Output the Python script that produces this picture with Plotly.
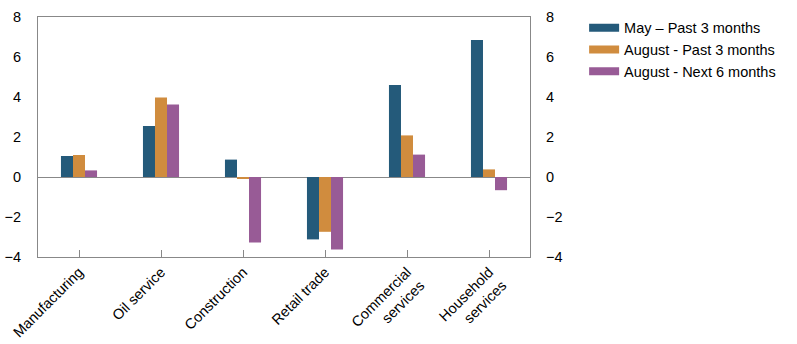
import plotly.graph_objects as go

categories = ["Manufacturing", "Oil service", "Construction", "Retail trade",
              "Commercial<br>services", "Household<br>services"]
may_past3 = [1.05, 2.55, 0.87, -3.12, 4.6, 6.85]
aug_past3 = [1.1, 3.98, -0.08, -2.74, 2.08, 0.38]
aug_next6 = [0.33, 3.63, -3.28, -3.62, 1.12, -0.66]
series_names = ["May \u2013 Past 3 months", "August - Past 3 months", "August - Next 6 months"]
colors = ["#245a7a", "#d08c3e", "#985b96"]
y_ticks = [-4, -2, 0, 2, 4, 6, 8]

fig = go.Figure()
for name, vals, col in zip(series_names, [may_past3, aug_past3, aug_next6], colors):
    fig.add_trace(go.Bar(x=categories, y=vals, name=name, marker_color=col,
                         marker_line_width=0, showlegend=False))
    # legend entry drawn as a wide swatch
    fig.add_trace(go.Scatter(x=[None], y=[None], mode="lines", name=name,
                             line=dict(color=col, width=8)))

# invisible trace to carry the right-hand axis
fig.add_trace(go.Scatter(x=categories, y=[None] * len(categories), yaxis="y2",
                         showlegend=False, hoverinfo="skip"))

tick_labels = [("\u2212" + str(-v)) if v < 0 else str(v) for v in y_ticks]
axis_font = dict(family="Liberation Sans, Arial, sans-serif", size=14.5, color="#000")
line_col = "#888888"

fig.update_layout(
    width=797, height=344,
    margin=dict(l=38, r=267, t=13, b=87),
    plot_bgcolor="white", paper_bgcolor="white",
    barmode="group", bargap=0.56, bargroupgap=0,
    font=axis_font,
    xaxis=dict(showline=True, linecolor=line_col, linewidth=1, mirror=True,
               ticks="inside", ticklen=7, tickcolor=line_col, tickangle=-45,
               tickfont=axis_font, showgrid=False, automargin=False),
    yaxis=dict(range=[-4, 8], tickvals=y_ticks, ticktext=tick_labels,
               showline=True, linecolor=line_col, linewidth=1, mirror=True,
               ticks="", ticklabelstandoff=13, automargin=False,
               showgrid=False, zeroline=True, zerolinecolor=line_col,
               zerolinewidth=1, tickfont=axis_font),
    yaxis2=dict(range=[-4, 8], tickvals=y_ticks, ticktext=tick_labels,
                overlaying="y", side="right", showgrid=False, zeroline=False,
                ticks="", ticklabelstandoff=15, showline=False, automargin=False,
                tickfont=axis_font),
    legend=dict(x=1.11, y=1.022, xanchor="left", yanchor="top",
                font=dict(family="Liberation Sans, Arial, sans-serif", size=14.5, color="#000"),
                tracegroupgap=0, itemwidth=30, bgcolor="rgba(0,0,0,0)"),
)

fig.write_html("out.html")
